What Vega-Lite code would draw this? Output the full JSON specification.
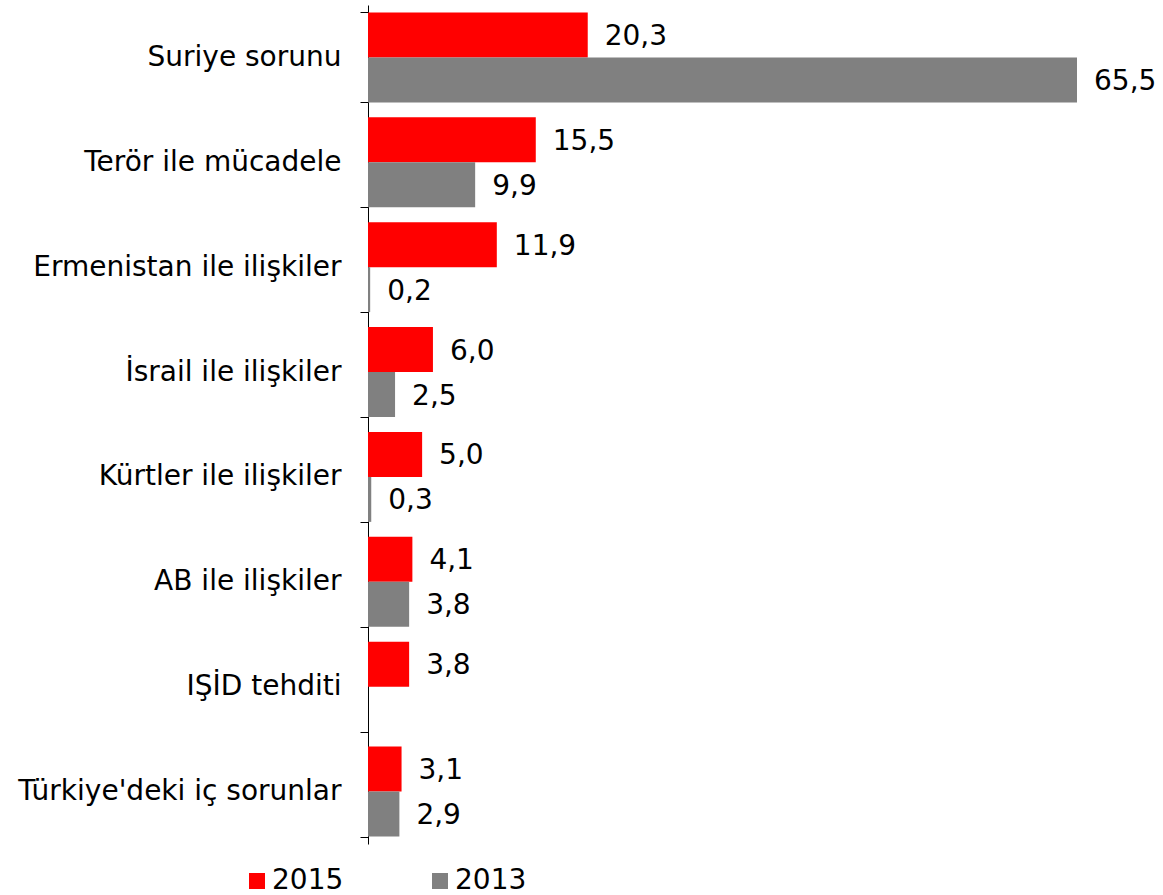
{
  "$schema": "https://vega.github.io/schema/vega-lite/v6.json",
  "width": 709,
  "height": 839,
  "autosize": {"type": "none"},
  "padding": {"left": 368, "top": 5, "right": 86, "bottom": 51},
  "config": {
    "locale": {"number": {"decimal": ",", "thousands": ".", "grouping": [3], "currency": ["", ""]}},
    "view": {"stroke": null},
    "font": "DejaVu Sans"
  },
  "data": {
    "values": [
      {"konu": "Suriye sorunu", "yil": "2015", "deger": 20.3},
      {"konu": "Suriye sorunu", "yil": "2013", "deger": 65.5},
      {"konu": "Terör ile mücadele", "yil": "2015", "deger": 15.5},
      {"konu": "Terör ile mücadele", "yil": "2013", "deger": 9.9},
      {"konu": "Ermenistan ile ilişkiler", "yil": "2015", "deger": 11.9},
      {"konu": "Ermenistan ile ilişkiler", "yil": "2013", "deger": 0.2},
      {"konu": "İsrail ile ilişkiler", "yil": "2015", "deger": 6.0},
      {"konu": "İsrail ile ilişkiler", "yil": "2013", "deger": 2.5},
      {"konu": "Kürtler ile ilişkiler", "yil": "2015", "deger": 5.0},
      {"konu": "Kürtler ile ilişkiler", "yil": "2013", "deger": 0.3},
      {"konu": "AB ile ilişkiler", "yil": "2015", "deger": 4.1},
      {"konu": "AB ile ilişkiler", "yil": "2013", "deger": 3.8},
      {"konu": "IŞİD tehditi", "yil": "2015", "deger": 3.8},
      {"konu": "Türkiye'deki iç sorunlar", "yil": "2015", "deger": 3.1},
      {"konu": "Türkiye'deki iç sorunlar", "yil": "2013", "deger": 2.9}
    ]
  },
  "encoding": {
    "y": {
      "field": "konu",
      "type": "nominal",
      "sort": ["Suriye sorunu", "Terör ile mücadele", "Ermenistan ile ilişkiler", "İsrail ile ilişkiler", "Kürtler ile ilişkiler", "AB ile ilişkiler", "IŞİD tehditi", "Türkiye'deki iç sorunlar"],
      "scale": {"paddingInner": 0.143, "paddingOuter": 0.0715},
      "axis": {
        "title": null,
        "domainColor": "#000000",
        "domainWidth": 1,
        "tickColor": "#000000",
        "tickBand": "extent",
        "tickSize": 8,
        "labelPadding": 19,
        "labelFontSize": 28,
        "labelColor": "#000000",
        "labelFont": "DejaVu Sans",
        "labelLimit": 0
      }
    },
    "yOffset": {"field": "yil", "type": "nominal", "sort": ["2015", "2013"], "scale": {"domain": ["2015", "2013"]}},
    "x": {"field": "deger", "type": "quantitative", "scale": {"domain": [0, 65.5], "nice": false}, "axis": null}
  },
  "layer": [
    {
      "mark": {"type": "bar"},
      "encoding": {
        "color": {
          "field": "yil",
          "type": "nominal",
          "sort": ["2015", "2013"],
          "scale": {"domain": ["2015", "2013"], "range": ["#FF0000", "#808080"]},
          "legend": {
            "title": null,
            "orient": "none",
            "legendX": -125,
            "legendY": 862,
            "direction": "horizontal",
            "symbolType": "square",
            "symbolSize": 256,
            "symbolStrokeWidth": 0,
            "labelFontSize": 28,
            "labelColor": "#000000",
            "labelFont": "DejaVu Sans",
            "labelOffset": 1,
            "columnPadding": 82
          }
        }
      }
    },
    {
      "mark": {"type": "text", "align": "left", "baseline": "middle", "dx": 17, "dy": 2, "fontSize": 28, "color": "#000000"},
      "encoding": {"text": {"field": "deger", "type": "quantitative", "format": ".1f"}}
    }
  ]
}
